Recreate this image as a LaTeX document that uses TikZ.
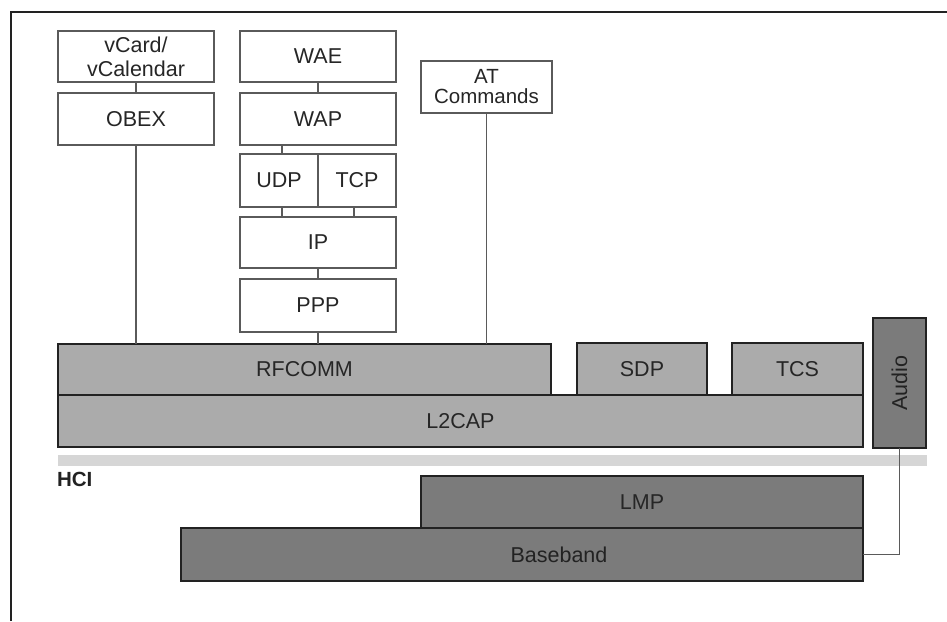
\documentclass[tikz,border=0pt]{standalone}
\usepackage{fontspec}
\setmainfont{Liberation Sans}
\definecolor{lineclr}{HTML}{5A5A5A}
\definecolor{edgeclr}{HTML}{222222}
\definecolor{txtclr}{HTML}{262626}
\definecolor{lightfill}{HTML}{ABABAB}
\definecolor{darkfill}{HTML}{7B7B7B}
\definecolor{hcifill}{HTML}{D6D6D6}
\tikzset{
  layer/.style={rectangle, inner sep=0pt, outer sep=0pt, text=txtclr,
    font=\fontsize{21.5}{24}\selectfont, align=center},
  whitebox/.style={layer, draw=lineclr, line width=1.2pt, fill=white},
  litebox/.style={layer, draw=edgeclr, line width=1.6pt, fill=lightfill},
  darkbox/.style={layer, draw=edgeclr, line width=1.6pt, fill=darkfill},
  conn/.style={draw=lineclr, line width=1.2pt},
  frameline/.style={draw=edgeclr, line width=1.5pt},
}
\begin{document}
\begin{tikzpicture}[x=1pt, y=-1pt]
\useasboundingbox (0,0) rectangle (947,621);
% outer frame (top and left edges)
\draw[frameline] (11,621) -- (11,12) -- (947,12);

% upper-layer protocols
\node[whitebox, minimum width=156, minimum height=51] (vcard) at (136,56.5) {vCard/\\vCalendar};
\node[whitebox, minimum width=156, minimum height=52] (obex) at (136,119) {OBEX};
\node[whitebox, minimum width=156, minimum height=51] (wae) at (318,56.5) {WAE};
\node[whitebox, minimum width=156, minimum height=52] (wap) at (318,119) {WAP};
\node[whitebox, minimum width=78, minimum height=53] (udp) at (279,180.5) {UDP};
\node[whitebox, minimum width=78, minimum height=53] (tcp) at (357,180.5) {TCP};
\node[whitebox, minimum width=156, minimum height=51] (ip) at (318,242.5) {IP};
\node[whitebox, minimum width=156, minimum height=53] (ppp) at (318,305.5) {PPP};
\node[whitebox, minimum width=131, minimum height=52,
      font=\fontsize{20.5}{20}\selectfont] (at) at (486.5,87) {AT\\Commands};

% core protocols
\node[litebox, minimum width=493, minimum height=51] (rfcomm) at (304.5,369.5) {RFCOMM};
\node[litebox, minimum width=130, minimum height=52] (sdp) at (642,369) {SDP};
\node[litebox, minimum width=131, minimum height=52] (tcs) at (797.5,369) {TCS};
\node[litebox, minimum width=805, minimum height=52] (l2cap) at (460.5,421) {L2CAP};

% host controller interface
\fill[hcifill] (58,455) rectangle (927,466);
\node[layer, anchor=base west, font=\fontsize{20.5}{24}\selectfont\bfseries, text=edgeclr] (hci) at (57,486) {HCI};

% controller layers
\node[darkbox, minimum width=442, minimum height=52] (lmp) at (642,502) {LMP};
\node[darkbox, minimum width=682, minimum height=53] (baseband) at (522,554.5) {};
\node[layer, text=edgeclr] (bblabel) at (559,554.5) {Baseband};
\node[darkbox, minimum width=53, minimum height=130] (audio) at (899.5,383) {};
\node[layer, rotate=90, text=edgeclr] (audiolabel) at (audio.center) {Audio};

% connectors between layers
\draw[conn] (vcard.south) -- (obex.north);
\draw[conn] (obex.south) -- (obex.south |- rfcomm.north);
\draw[conn] (wae.south) -- (wap.north);
\draw[conn] ([xshift=3pt]udp.north) -- ([xshift=3pt]udp.north |- wap.south);
\draw[conn] ([xshift=3pt]udp.south) -- ([xshift=3pt]udp.south |- ip.north);
\draw[conn] ([xshift=-3pt]tcp.south) -- ([xshift=-3pt]tcp.south |- ip.north);
\draw[conn] (ip.south) -- (ppp.north);
\draw[conn] (ppp.south) -- (ppp.south |- rfcomm.north);
\draw[conn] (at.south) -- (at.south |- rfcomm.north);
\draw[conn] (audio.south) |- (baseband.east);
\end{tikzpicture}
\end{document}
